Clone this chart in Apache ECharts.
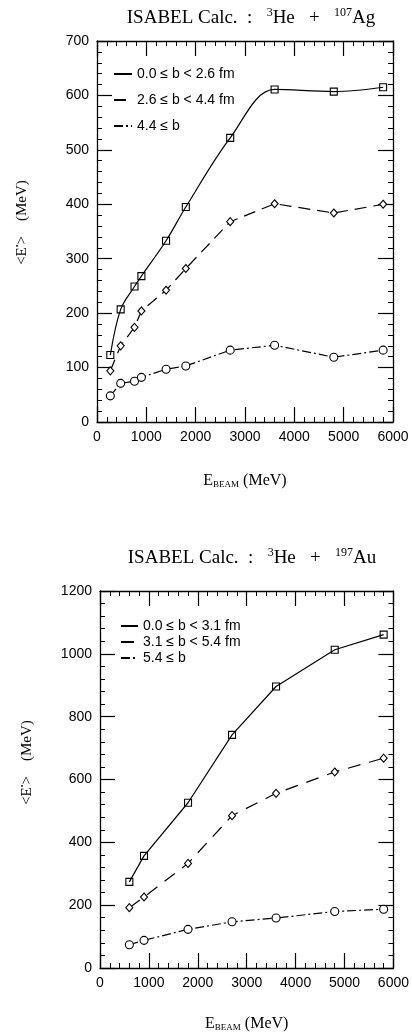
<!DOCTYPE html>
<html>
<head>
<meta charset="utf-8">
<script src="https://cdn.jsdelivr.net/npm/echarts@6/dist/echarts.min.js"></script>
<style>
  html, body { margin: 0; padding: 0; background: #fff; }
  #chart { width: 412px; height: 1034px; }
</style>
</head>
<body>
<div id="chart"></div>
<script>
// 3He + 107Ag : mean excitation energy vs beam energy, three impact-parameter bins
const agEnergy = [270, 480, 760, 900, 1400, 1800, 2700, 3600, 4800, 5800];
const agCentral = [123, 207, 249, 268, 333, 395, 522, 611, 607, 615];
const agMid = [94, 140, 174, 204, 242, 282, 368, 401, 384, 400];
const agPeripheral = [48, 71, 75, 82, 97, 103, 132, 141, 119, 132];
const agLabels = ['0.0 \u2264 b < 2.6 fm', '2.6 \u2264 b < 4.4 fm', '4.4 \u2264 b'];

// 3He + 197Au
const auEnergy = [600, 900, 1800, 2700, 3600, 4800, 5800];
const auCentral = [274, 357, 526, 742, 896, 1013, 1061];
const auMid = [192, 226, 333, 485, 556, 624, 668];
const auPeripheral = [74, 88, 123, 147, 159, 180, 187];
const auLabels = ['0.0 \u2264 b < 3.1 fm', '3.1 \u2264 b < 5.4 fm', '5.4 \u2264 b'];

const xTicks = { min: 0, max: 6000, interval: 1000 };
const agY = { min: 0, max: 700, interval: 100 };
const auY = { min: 0, max: 1200, interval: 200 };

const INK = '#000';
const SANS = 'Liberation Sans';
const SERIF = 'Liberation Serif';

const pairs = (xs, ys) => xs.map((x, i) => [x, ys[i]]);

function frameAxis(base, position, withLabels, extra) {
  return Object.assign({
    type: 'value',
    position: position,
    axisLine: { show: true, onZero: false, lineStyle: { color: INK, width: 1.3 } },
    axisTick: { show: true, inside: true, length: 15, lineStyle: { color: INK, width: 1.2 } },
    minorTick: { show: true, splitNumber: 5, length: 5, lineStyle: { color: INK, width: 1 } },
    splitLine: { show: false },
    minorSplitLine: { show: false },
    axisLabel: withLabels
      ? { show: true, color: INK, fontFamily: SANS, fontSize: 14, formatter: v => String(v) }
      : { show: false }
  }, base, extra || {});
}

function xAxisName(gap) {
  return {
    name: '{a|E}{sub|BEAM}{a| (MeV)}',
    nameLocation: 'middle',
    nameGap: gap,
    nameTextStyle: {
      rich: {
        a: { fontFamily: SERIF, fontSize: 16, color: INK },
        sub: { fontFamily: SERIF, fontSize: 9, color: INK, padding: [8, 0, 0, 0] }
      }
    }
  };
}

function yAxisName(gap, shift) {
  return {
    name: '{a|<E}{sup|\u2022}{a|>    (MeV)}',
    nameLocation: 'middle',
    nameGap: gap,
    nameRotate: 90,
    nameTextStyle: {
      padding: [0, 0, 0, shift],
      rich: {
        a: { fontFamily: SERIF, fontSize: 15, color: INK },
        sup: { fontFamily: SERIF, fontSize: 8, color: INK, padding: [0, 0, 8, 0] }
      }
    }
  };
}

function titleText(mass, element) {
  return '{a|ISABEL Calc.  :   }{s|3}{a|He   +   }{s|' + mass + '}{a|' + element + '}';
}
const titleRich = {
  a: { fontFamily: SERIF, fontSize: 19, fontWeight: 'normal', color: INK },
  s: { fontFamily: SERIF, fontSize: 12, fontWeight: 'normal', color: INK, padding: [0, 0, 10, 0] }
};

const dashA = [12, 7];
const dashDot = [9, 3, 2, 3];
const dashB = [13, 9];

function lineSeries(name, data, xi, yi, symbol, size, dash, smooth, hollowFill) {
  return {
    name: name,
    type: 'line',
    xAxisIndex: xi,
    yAxisIndex: yi,
    data: data,
    smooth: smooth,
    symbol: symbol,
    symbolSize: size,
    showAllSymbol: true,
    lineStyle: { color: INK, width: 1.2, type: dash },
    itemStyle: { color: hollowFill, borderColor: INK, borderWidth: 1.1 },
    emphasis: { disabled: true },
    z: 3
  };
}

const legendText = { fontFamily: SANS, fontSize: 14, color: INK };

const option = {
  animation: false,
  backgroundColor: '#fff',
  title: [
    { text: titleText('107', 'Ag'), left: 246, top: 2, textAlign: 'center',
      textStyle: { fontWeight: 'normal', rich: titleRich } },
    { text: titleText('197', 'Au'), left: 247, top: 542, textAlign: 'center',
      textStyle: { fontWeight: 'normal', rich: titleRich } }
  ],
  legend: [
    {
      data: agLabels, orient: 'vertical', left: 113, top: 67, padding: 0,
      itemWidth: 18, itemHeight: 14, itemGap: 12,
      itemStyle: { opacity: 0 },
      textStyle: legendText,
      selectedMode: false
    },
    {
      data: auLabels, orient: 'vertical', left: 120, top: 619, padding: 0,
      itemWidth: 17, itemHeight: 12, itemGap: 2,
      itemStyle: { opacity: 0 },
      textStyle: legendText,
      selectedMode: false
    }
  ],
  grid: [
    { left: 97, top: 41, width: 296, height: 381 },
    { left: 100, top: 591, width: 297, height: 377 }
  ],
  xAxis: [
    frameAxis(xTicks, 'bottom', true, Object.assign({ gridIndex: 0 }, xAxisName(50))),
    frameAxis(xTicks, 'top', false, { gridIndex: 0 }),
    frameAxis(xTicks, 'bottom', true, Object.assign({ gridIndex: 1 }, xAxisName(47))),
    frameAxis(xTicks, 'top', false, { gridIndex: 1 })
  ],
  yAxis: [
    frameAxis(agY, 'left', true, Object.assign({ gridIndex: 0 }, yAxisName(67, 18))),
    frameAxis(agY, 'right', false, { gridIndex: 0 }),
    frameAxis(auY, 'left', true, Object.assign({ gridIndex: 1 }, yAxisName(65, 34))),
    frameAxis(auY, 'right', false, { gridIndex: 1 })
  ],
  series: [
    lineSeries(agLabels[0], pairs(agEnergy, agCentral), 0, 0, 'rect', 7, 'solid', 0.35, 'transparent'),
    lineSeries(agLabels[1], pairs(agEnergy, agMid), 0, 0, 'diamond', [7, 8], dashA, false, '#fff'),
    lineSeries(agLabels[2], pairs(agEnergy, agPeripheral), 0, 0, 'circle', 8, dashDot, false, '#fff'),
    lineSeries(auLabels[0], pairs(auEnergy, auCentral), 2, 2, 'rect', 7, 'solid', false, 'transparent'),
    lineSeries(auLabels[1], pairs(auEnergy, auMid), 2, 2, 'diamond', [7, 8], dashB, false, '#fff'),
    lineSeries(auLabels[2], pairs(auEnergy, auPeripheral), 2, 2, 'circle', 8, dashDot, false, '#fff')
  ]
};

const chart = echarts.init(document.getElementById('chart'), null, { renderer: 'canvas' });
chart.setOption(option);
</script>
</body>
</html>
